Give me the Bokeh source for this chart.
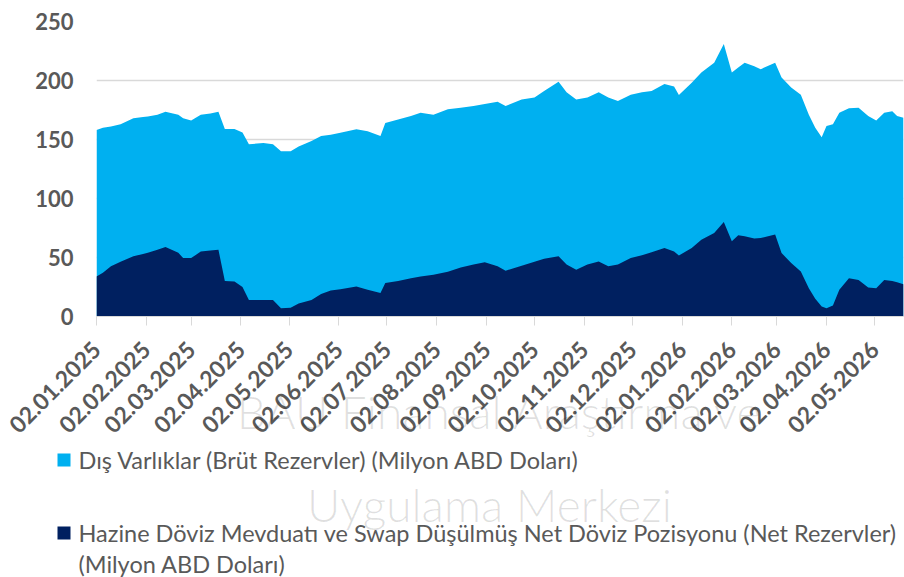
import math
from datetime import datetime
from bokeh.plotting import figure
from bokeh.layouts import column
from bokeh.models import Range1d, FixedTicker, DatetimeTickFormatter
from bokeh.core.properties import value
from bokeh.embed import file_html
from bokeh.resources import INLINE

dates = ["2025-01-02", "2025-01-06", "2025-01-11", "2025-01-17", "2025-01-25", "2025-01-31",
         "2025-02-03", "2025-02-09", "2025-02-14", "2025-02-22", "2025-02-25", "2025-03-02",
         "2025-03-08", "2025-03-14", "2025-03-19", "2025-03-23", "2025-03-29", "2025-04-03",
         "2025-04-07", "2025-04-16", "2025-04-22", "2025-04-27", "2025-05-03", "2025-05-08",
         "2025-05-16", "2025-05-22", "2025-05-28", "2025-06-03", "2025-06-13", "2025-06-20",
         "2025-06-28", "2025-07-01", "2025-07-09", "2025-07-17", "2025-07-23", "2025-07-31",
         "2025-08-09", "2025-08-17", "2025-08-25", "2025-09-01", "2025-09-09", "2025-09-14",
         "2025-09-24", "2025-10-02", "2025-10-08", "2025-10-17", "2025-10-22", "2025-10-28",
         "2025-11-04", "2025-11-11", "2025-11-17", "2025-11-23", "2025-12-01", "2025-12-08",
         "2025-12-14", "2025-12-22", "2025-12-28", "2025-12-31", "2026-01-08", "2026-01-14",
         "2026-01-22", "2026-01-28", "2026-02-02", "2026-02-06", "2026-02-10", "2026-02-16",
         "2026-02-20", "2026-03-01", "2026-03-05", "2026-03-11", "2026-03-17", "2026-03-22",
         "2026-03-26", "2026-03-30", "2026-04-02", "2026-04-06", "2026-04-10", "2026-04-16",
         "2026-04-22", "2026-04-28", "2026-05-03", "2026-05-08", "2026-05-13", "2026-05-16",
         "2026-05-20"]

# Dış Varlıklar (Brüt Rezervler)
brut = [158, 160, 161, 163, 168, 169,
        169.5, 171, 173.5, 171, 168, 166,
        171, 172, 173.6, 159, 159, 156,
        146, 147, 146, 140, 140, 144,
        148.7, 153, 154, 155.7, 158.6, 157,
        153, 164, 167, 170, 172.7, 171,
        175.6, 177, 178.4, 180, 182, 178.4,
        184, 185.5, 191, 199, 190, 184,
        185.5, 190, 185.5, 182.7, 188, 190,
        191, 197, 195, 187.8, 198, 206.7,
        215, 231, 206.7, 211, 215, 212,
        209.6, 215, 202.5, 194, 188, 171,
        160, 152, 161.4, 163, 172.7, 176.5,
        177, 170, 166, 172.7, 174, 170,
        168.5]

# Hazine Döviz Mevduatı ve Swap Düşülmüş Net Döviz Pozisyonu (Net Rezervler)
net = [34, 37, 42.5, 46.5, 51, 53,
       54, 56.5, 59, 54, 49.5, 49.5,
       55, 56, 56.6, 30, 29.7, 25,
       14, 14, 14, 7, 7.5, 11,
       14, 19, 22, 23, 25.5, 22.7,
       20, 28.3, 30, 32.5, 34, 35.4,
       38, 41.6, 44, 46, 42.5, 38.8,
       43, 46.5, 49, 51, 44, 39.7,
       44, 46.7, 42.5, 44, 49.5, 52,
       54.5, 58, 55, 51.8, 58, 65,
       70.8, 80, 63.7, 68.8, 68, 66,
       66.5, 69.4, 53.8, 45.3, 38.2, 24,
       15, 8.5, 7, 9.3, 22.7, 32.5,
       31, 24.6, 24, 31, 30, 29,
       27.4]

tick_dates = ["2025-01-02", "2025-02-02", "2025-03-02", "2025-04-02", "2025-05-02",
              "2025-06-02", "2025-07-02", "2025-08-02", "2025-09-02", "2025-10-02",
              "2025-11-02", "2025-12-02", "2026-01-02", "2026-02-02", "2026-03-02",
              "2026-04-02", "2026-05-02"]
y_ticks = [0, 50, 100, 150, 200, 250]

legend_labels = ["Dış Varlıklar (Brüt Rezervler) (Milyon ABD Doları)",
                 "Hazine Döviz Mevduatı ve Swap Düşülmüş Net Döviz Pozisyonu (Net Rezervler)"]
legend_label_cont = "(Milyon ABD Doları)"
watermark_1 = "BAU Finansal Araştırma ve"
watermark_2 = "Uygulama Merkezi"

LIGHT = "#00B0F0"
DARK = "#002060"
GREY = "#595959"
W = 904
H_MAIN = 444
H_LEG = 577 - H_MAIN

epoch = datetime(1970, 1, 1)
def to_dt(s):
    return datetime.strptime(s, "%Y-%m-%d")
def to_ms(s):
    return (to_dt(s) - epoch).total_seconds() * 1000.0

x = [to_dt(d) for d in dates]

# ---------------- main chart ----------------
p = figure(width=W, height=H_MAIN, x_axis_type="datetime", output_backend="svg",
           toolbar_location=None, x_range=Range1d(x[0], x[-1]), y_range=Range1d(0, 250),
           min_border_left=96, min_border_right=1, min_border_top=21,
           min_border_bottom=H_MAIN - 316)
p.outline_line_color = None

p.varea(x=x, y1=0, y2=brut, fill_color=LIGHT)
p.varea(x=x, y1=0, y2=net, fill_color=DARK)

p.xgrid.visible = False
p.ygrid.grid_line_color = "#d9d9d9"
p.ygrid.grid_line_width = 1.5

p.yaxis.ticker = FixedTicker(ticks=y_ticks)
p.yaxis.axis_line_color = None
p.yaxis.major_tick_line_color = None
p.yaxis.minor_tick_line_color = None
p.yaxis.major_tick_out = 0
p.yaxis.major_label_standoff = 23
p.yaxis.major_label_text_font = "Lato"
p.yaxis.major_label_text_font_style = "bold"
p.yaxis.major_label_text_font_size = "22px"
p.yaxis.major_label_text_color = GREY

fmt = "%d.%m.%Y"
p.xaxis.ticker = FixedTicker(ticks=[to_ms(d) for d in tick_dates])
p.xaxis.formatter = DatetimeTickFormatter(days=fmt, months=fmt, years=fmt, hours=fmt,
                                          minutes=fmt, seconds=fmt, milliseconds=fmt,
                                          microseconds=fmt, hourmin=fmt, minsec=fmt,
                                          strip_leading_zeros=False, context=None)
p.xaxis.axis_line_color = "#d9d9d9"
p.xaxis.major_tick_line_color = "#d9d9d9"
p.xaxis.minor_tick_line_color = None
p.xaxis.major_tick_in = 0
p.xaxis.major_tick_out = 9
p.xaxis.major_label_orientation = math.pi / 4
p.xaxis.major_label_standoff = 20
p.xaxis.major_label_text_font = "Lato"
p.xaxis.major_label_text_font_style = "bold"
p.xaxis.major_label_text_font_size = "23px"
p.xaxis.major_label_text_color = GREY
# faint watermark (first line) as the axis label
p.xaxis.axis_label = watermark_1
p.xaxis.axis_label_text_font = "Lato Light"
p.xaxis.axis_label_text_font_style = "normal"
p.xaxis.axis_label_text_font_size = "46px"
p.xaxis.axis_label_text_color = "black"
p.xaxis.axis_label_text_alpha = 0.12
p.xaxis.axis_label_standoff = -60

# ---------------- legend strip ----------------
q = figure(width=W, height=H_LEG, output_backend="svg", toolbar_location=None,
           x_range=Range1d(0, W), y_range=Range1d(577, H_MAIN),
           x_axis_location=None, y_axis_location=None,
           min_border_left=0, min_border_right=0, min_border_top=0, min_border_bottom=0)
q.outline_line_color = None
q.grid.visible = False

for fig in (p, q):
    if "frame_align" in fig.properties():
        fig.frame_align = False

q.text(x=[489], y=[504], text=[watermark_2], text_font=value("Lato Light"),
       text_font_size="46px", text_color="black", text_alpha=0.12,
       text_align="center", text_baseline="middle")

q.quad(left=[57, 57], right=[70, 70], top=[453, 526], bottom=[466, 539],
       fill_color=[LIGHT, DARK], line_color=None)
q.text(x=[78, 78, 78], y=[459, 532, 563],
       text=[legend_labels[0], legend_labels[1], legend_label_cont],
       text_font=value("Lato"), text_font_size="23.5px", text_color=GREY,
       text_align="left", text_baseline="middle")

layout = column(p, q, spacing=0)
open("out.html", "w").write(file_html(layout, INLINE))
